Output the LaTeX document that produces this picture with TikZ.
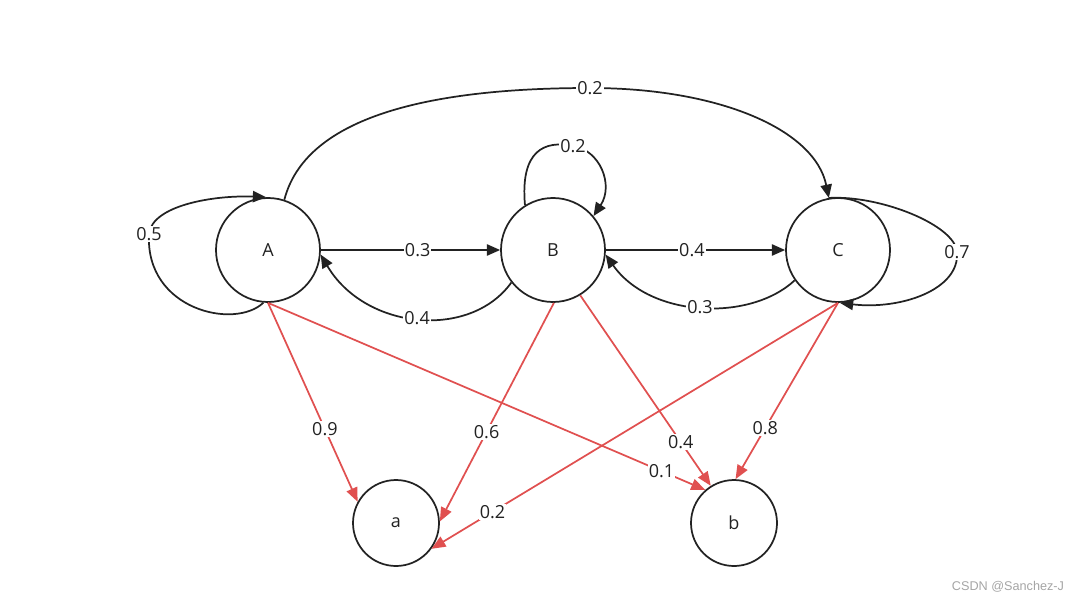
\documentclass[tikz,border=0pt]{standalone}
\usepackage{fontspec}
\setmainfont{Open Sans}
\newfontfamily\wmfont{Liberation Sans}
\usetikzlibrary{arrows.meta}
\definecolor{ink}{RGB}{34,34,34}
\definecolor{redline}{RGB}{224,80,80}
\definecolor{wmgray}{RGB}{165,165,165}
\begin{document}
\begin{tikzpicture}[x=0.75pt,y=-0.75pt,
  state/.style={circle,draw=ink,line width=1.3pt,minimum size=78pt,inner sep=0pt,font=\fontsize{13.5}{15}\selectfont,text=ink},
  smallstate/.style={state,minimum size=64.5pt},
  bl/.style={draw=ink,line width=1.3pt,-{Triangle[length=10pt,width=8.5pt]}},
  rd/.style={draw=redline,line width=1.3pt,-{Triangle[length=10.5pt,width=8.5pt]}},
  lbl/.style={fill=white,inner sep=0.8pt,font=\fontsize{13.5}{15}\selectfont,text=ink}]
\useasboundingbox (0,0) rectangle (1081,603);
\node[state] (A) at (268,250) {A};
\node[state] (B) at (553,250) {B};
\node[state] (C) at (838,250) {C};
\node[smallstate] (a) at (396,523) {a};
\node[smallstate] (b) at (734,523) {b};
% straight black
\draw[bl] (A) -- node[lbl,pos=0.54]{0.3} (B);
\draw[bl] (B) -- node[lbl,pos=0.48]{0.4} (C);
% curved back edges
\draw[bl] (B.218) .. controls (470,340) and (365,330) .. node[lbl,pos=0.5]{0.4} (A.-5);
\draw[bl] (C.215) .. controls (750,322) and (650,318) .. node[lbl,pos=0.5]{0.3} (B.-5);
% top arc A -> C
\draw[bl] (A.72) .. controls (305,120) and (420,88) .. (590,88) node[lbl]{0.2}
  .. controls (720,88) and (815,130) .. (C.100);
% self loops
\draw[bl] (A.265) .. controls (235,330) and (145,310) .. (149,234) node[lbl]{0.5}
  .. controls (152,205) and (215,195) .. (A.92);
\draw[bl] (B.122) .. controls (520,150) and (545,140) .. (573,146) node[lbl]{0.2}
  .. controls (600,150) and (614,185) .. (B.40);
\draw[bl] (C.100) .. controls (880,195) and (955,225) .. (957,252) node[lbl]{0.7}
  .. controls (960,290) and (900,310) .. (C.272);
% red edges
\draw[rd] (A.270) -- node[lbl,pos=0.635]{0.9} (a.151);
\draw[rd] (A.270) -- node[lbl,pos=0.9]{0.1} (b.131);
\draw[rd] (B.271) -- node[lbl,pos=0.59]{0.6} (a.2);
\draw[rd] (B.-59) -- node[lbl,pos=0.77]{0.4} (b.122);
\draw[rd] (C.270) -- node[lbl,pos=0.85]{0.2} (a.-36);
\draw[rd] (C.270) -- node[lbl,pos=0.71]{0.8} (b.88);
\node[font=\wmfont\fontsize{9.5}{11}\selectfont,text=wmgray] (wm) at (1008,587) {CSDN @Sanchez-J};
\end{tikzpicture}
\end{document}
